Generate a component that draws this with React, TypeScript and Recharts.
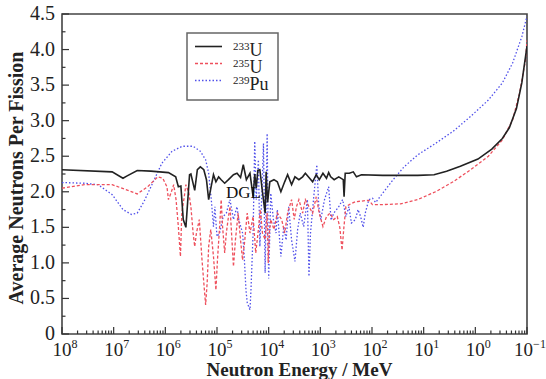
import React from 'react';
import { LineChart, Line, XAxis, YAxis, ReferenceArea } from 'recharts';

const W = 546;
const H = 379;
const PL = 62;
const PR = 527;
const PT = 14;
const PB = 334;
const FONT = '"Liberation Serif", "Times New Roman", serif';

// [neutron energy (MeV, as labelled), average neutrons per fission]
const u233Points: [number, number][] = [
  [1e8, 2.31], [1.07e7, 2.28], [6.6e6, 2.19], [5.6e6, 2.22], [3.5e6, 2.3], [1.9e6, 2.29], [8.7e5, 2.27],
  [6.3e5, 2.21], [5.6e5, 2.07], [5.0e5, 2.08], [4.5e5, 1.61], [4.0e5, 1.5], [3.6e5, 1.98], [3.4e5, 2.24],
  [3.2e5, 2.25], [2.7e5, 2.02], [2.4e5, 2.31], [2.1e5, 2.35], [1.8e5, 2.31], [1.6e5, 2.17], [1.45e5, 1.89],
  [1.3e5, 2.07], [1.17e5, 2.24], [1.05e5, 2.14], [9.3e4, 2.21], [8.3e4, 2.17], [7.1e4, 2.12], [6.0e4, 2.17],
  [4.8e4, 2.24], [4.1e4, 2.26], [3.5e4, 2.2], [3.1e4, 2.38], [2.7e4, 2.17], [2.3e4, 2.26], [2.0e4, 1.93],
  [1.86e4, 2.25], [1.74e4, 2.05], [1.62e4, 2.3], [1.48e4, 2.31], [1.32e4, 2.0], [1.17e4, 1.7], [1.12e4, 2.28],
  [1.05e4, 1.85], [9.5e3, 2.14], [7.9e3, 2.17], [6.8e3, 2.14], [5.8e3, 2.0], [4.9e3, 2.14], [4.3e3, 2.24],
  [3.6e3, 2.1], [3.1e3, 2.21], [2.6e3, 2.17], [2.2e3, 2.21], [1.95e3, 2.26], [1.66e3, 2.2], [1.41e3, 2.14],
  [1.2e3, 2.24], [1.05e3, 2.17], [890, 2.26], [760, 2.19], [690, 2.27], [630, 2.21], [540, 2.17], [440, 2.21],
  [360, 2.17], [347, 1.93], [330, 2.26], [275, 2.26], [230, 2.28], [200, 2.21], [160, 2.24], [62, 2.23],
  [13, 2.23], [6.3, 2.24], [3.6, 2.29], [1.95, 2.36], [0.89, 2.46], [0.48, 2.6], [0.3, 2.75], [0.22, 2.9],
  [0.16, 3.17], [0.126, 3.53], [0.1, 4.05],
];

const u235Points: [number, number][] = [
  [1e8, 2.05], [3.7e7, 2.1], [1.07e7, 2.1], [5.8e6, 2.03], [3.5e6, 1.97], [2.2e6, 2.07], [1.4e6, 2.21],
  [1.12e6, 2.19], [9.3e5, 2.07], [8.7e5, 1.89], [7.8e5, 1.98], [6.9e5, 2.1], [6.2e5, 1.89], [5.6e5, 1.51],
  [5.1e5, 1.09], [4.8e5, 1.7], [4.3e5, 1.93], [4.0e5, 2.1], [3.5e5, 1.98], [3.2e5, 1.79], [2.9e5, 1.42],
  [2.7e5, 1.23], [2.5e5, 1.42], [2.2e5, 1.61], [1.95e5, 1.04], [1.8e5, 0.72], [1.66e5, 0.41], [1.55e5, 0.72],
  [1.45e5, 1.23], [1.32e5, 1.47], [1.17e5, 1.09], [1.05e5, 0.62], [9.8e4, 1.04], [8.9e4, 1.51], [8.3e4, 1.89],
  [7.8e4, 1.51], [7.1e4, 1.14], [6.6e4, 1.42], [6.0e4, 1.65], [5.6e4, 1.79], [5.1e4, 1.28], [4.8e4, 0.95],
  [4.4e4, 1.32], [3.9e4, 1.7], [3.5e4, 1.32], [3.2e4, 1.04], [2.9e4, 1.32], [2.6e4, 1.7], [2.3e4, 1.42],
  [2.0e4, 1.65], [1.78e4, 1.14], [1.58e4, 1.47], [1.45e4, 1.75], [1.32e4, 1.42], [1.17e4, 1.33], [1.07e4, 1.7],
  [1.02e4, 1.0], [9.6e3, 1.47], [9.1e3, 1.61], [7.9e3, 1.47], [6.8e3, 1.7], [5.6e3, 1.61], [4.9e3, 1.42],
  [4.3e3, 1.7], [3.6e3, 1.89], [3.2e3, 1.61], [2.9e3, 1.79], [2.6e3, 1.89], [2.2e3, 1.7], [1.95e3, 1.89],
  [1.66e3, 1.79], [1.41e3, 1.7], [1.2e3, 1.93], [1.05e3, 1.7], [890, 1.51], [760, 1.65], [650, 1.7],
  [550, 1.61], [470, 1.65], [420, 1.5], [380, 1.18], [350, 1.5], [320, 1.79], [275, 1.82], [210, 1.86],
  [115, 1.88], [98, 1.82], [62, 1.82], [28, 1.83], [13, 1.89], [5.9, 2.0], [2.7, 2.14], [1.23, 2.31],
  [0.56, 2.5], [0.3, 2.73], [0.19, 3.01], [0.14, 3.38], [0.107, 3.85], [0.1, 4.13],
];

const pu239Points: [number, number][] = [
  [1e8, 2.13], [3.7e7, 2.12], [2.0e7, 2.1], [1.07e7, 1.96], [6.6e6, 1.75], [4.5e6, 1.68], [3.5e6, 1.7],
  [2.6e6, 1.86], [1.9e6, 2.07], [1.17e6, 2.4], [7.4e5, 2.57], [4.7e5, 2.64], [2.9e5, 2.64], [2.1e5, 2.57],
  [1.66e5, 2.45], [1.45e5, 2.26], [1.29e5, 1.89], [1.17e5, 1.51], [1.1e5, 1.79], [1.0e5, 1.37], [8.9e4, 1.42],
  [7.6e4, 1.65], [6.6e4, 1.7], [5.6e4, 1.89], [4.8e4, 1.61], [4.1e4, 1.79], [3.8e4, 1.61], [3.2e4, 1.42],
  [3.0e4, 1.14], [2.75e4, 0.62], [2.6e4, 0.44], [2.3e4, 0.34], [2.2e4, 0.62], [2.0e4, 1.42], [1.86e4, 2.71],
  [1.74e4, 1.89], [1.58e4, 2.45], [1.48e4, 1.23], [1.35e4, 2.0], [1.26e4, 2.68], [1.17e4, 0.86], [1.1e4, 2.2],
  [1.07e4, 2.82], [1.02e4, 1.28], [1.0e4, 0.78], [9.1e3, 1.98], [8.1e3, 1.61], [7.2e3, 1.42], [6.8e3, 1.75],
  [5.8e3, 1.09], [5.1e3, 1.51], [4.6e3, 1.32], [4.1e3, 1.79], [3.6e3, 1.32], [3.1e3, 1.02], [2.75e3, 1.47],
  [2.45e3, 1.7], [2.1e3, 1.51], [1.78e3, 1.89], [1.66e3, 0.81], [1.55e3, 1.42], [1.32e3, 1.98], [1.17e3, 2.38],
  [1.07e3, 1.79], [980, 1.61], [830, 1.89], [690, 2.07], [620, 1.6], [550, 1.7], [440, 1.79], [370, 1.89],
  [320, 1.65], [280, 1.79], [250, 1.56], [210, 1.61], [186, 1.75], [166, 1.65], [148, 1.5], [135, 1.7],
  [115, 1.89], [98, 1.91], [85, 1.85], [62, 1.98], [39, 2.17], [24, 2.35], [13, 2.52], [5.9, 2.68],
  [2.7, 2.85], [1.23, 3.06], [0.56, 3.29], [0.3, 3.53], [0.19, 3.81], [0.126, 4.18], [0.1, 4.47],
];

const xMajorTicks = [1e8, 1e7, 1e6, 1e5, 1e4, 1e3, 1e2, 1e1, 1e0, 1e-1];
const xMinorDivisors = [2, 3, 4, 5, 6, 7, 8, 9];
const yTicks = [0, 0.25, 0.5, 0.75, 1, 1.25, 1.5, 1.75, 2, 2.25, 2.5, 2.75, 3, 3.25, 3.5, 3.75, 4, 4.25, 4.5];

const seriesNames = ['233', '235', '239'];
const seriesElements = ['U', 'U', 'Pu'];

const toRows = (pts: [number, number][]) => pts.map(([E, nu]) => ({ E, nu }));
const u233Data = toRows(u233Points);
const u235Data = toRows(u235Points);
const pu239Data = toRows(pu239Points);

const xTicks: number[] = [...xMajorTicks];
for (let i = 0; i < xMajorTicks.length - 1; i++) {
  for (const m of xMinorDivisors) xTicks.push(xMajorTicks[i] / m);
}

const XTick = (props: any) => {
  const { x, payload } = props;
  const v = payload.value as number;
  const lg = Math.log10(v);
  const exp = Math.round(lg);
  const isMajor = Math.abs(lg - exp) < 1e-6;
  return (
    <g>
      <line x1={x} x2={x} y1={PB} y2={PB - (isMajor ? 7 : 3.5)} stroke="#333" strokeWidth={1.2} />
      {isMajor && (
        <text x={x + 3} y={356} textAnchor="middle" fontSize={19} fontFamily={FONT} fill="#222">
          10
          <tspan dy={-8} fontSize={12}>{exp < 0 ? '\u2212' + Math.abs(exp) : String(exp)}</tspan>
        </text>
      )}
    </g>
  );
};

const YTick = (props: any) => {
  const { y, payload } = props;
  const v = payload.value as number;
  const isMajor = Math.abs(v * 2 - Math.round(v * 2)) < 1e-6;
  return (
    <g>
      <line x1={PL} x2={PL + (isMajor ? 7 : 3.5)} y1={y} y2={y} stroke="#333" strokeWidth={1.2} />
      {isMajor && (
        <text x={55} y={y + 6} textAnchor="end" fontSize={20} fontFamily={FONT} fill="#222">
          {v === 0 ? '0' : v.toFixed(1)}
        </text>
      )}
    </g>
  );
};

const RED = '#ee4f5c';
const BLUE = '#5050ea';

export default function App() {
  return (
    <div style={{ position: 'relative', width: W, height: H }}>
      <style>{'body{margin:0}'}</style>
      <LineChart width={W} height={H} margin={{ top: PT, right: W - PR, left: 0, bottom: 0 }}>
        <XAxis
          dataKey="E"
          type="number"
          scale="log"
          domain={[0.1, 1e8]}
          reversed
          allowDataOverflow
          ticks={xTicks}
          interval={0}
          tick={<XTick />}
          tickLine={false}
          axisLine={false}
          height={H - PB}
        />
        <YAxis
          type="number"
          domain={[0, 4.5]}
          ticks={yTicks}
          interval={0}
          tick={<YTick />}
          tickLine={false}
          axisLine={false}
          width={PL}
          allowDataOverflow
        />
        <Line data={pu239Data} dataKey="nu" type="linear" stroke={BLUE} strokeWidth={1.3} strokeDasharray="1.5 2" dot={false} isAnimationActive={false} />
        <Line data={u235Data} dataKey="nu" type="linear" stroke={RED} strokeWidth={1.3} strokeDasharray="3 2" dot={false} isAnimationActive={false} />
        <Line data={u233Data} dataKey="nu" type="linear" stroke="#222" strokeWidth={1.6} dot={false} isAnimationActive={false} />
        <ReferenceArea x1={1e8} x2={0.1} y1={0} y2={4.5} fill="none" stroke="#444" strokeWidth={1.6} ifOverflow="visible" />
      </LineChart>
      <svg width={W} height={H} style={{ position: 'absolute', left: 0, top: 0, pointerEvents: 'none' }}>
        <text x={226} y={198} fontSize={17} fontFamily={FONT} fill="#111">DGL</text>
        <text
          transform={`translate(23, ${(PT + PB) / 2 + 4}) rotate(-90)`}
          textAnchor="middle"
          fontSize={20}
          fontWeight="bold"
          fontFamily={FONT}
          fill="#222"
        >
          Average Neutrons Per Fission
        </text>
        <text x={(PL + PR) / 2 + 5} y={376} textAnchor="middle" fontSize={19} fontWeight="bold" fontFamily={FONT} fill="#222">
          Neutron Energy / MeV
        </text>
        <rect x={187} y={33} width={91} height={67} fill="#fff" stroke="#666" strokeWidth={1.5} />
        {seriesNames.map((n, i) => {
          const cy = 46.5 + i * 17;
          const stroke = i === 0 ? '#222' : i === 1 ? RED : BLUE;
          const dash = i === 0 ? undefined : i === 1 ? '3 2' : '1.5 2';
          return (
            <g key={n}>
              <line x1={195} x2={222} y1={cy} y2={cy} stroke={stroke} strokeWidth={i === 0 ? 1.6 : 1.3} strokeDasharray={dash} />
              <text x={233} y={cy + 9} fontFamily={FONT} fill="#222" fontSize={18}>
                <tspan fontSize={11} dy={-6}>{n}</tspan>
                <tspan dy={6}>{seriesElements[i]}</tspan>
              </text>
            </g>
          );
        })}
      </svg>
    </div>
  );
}
